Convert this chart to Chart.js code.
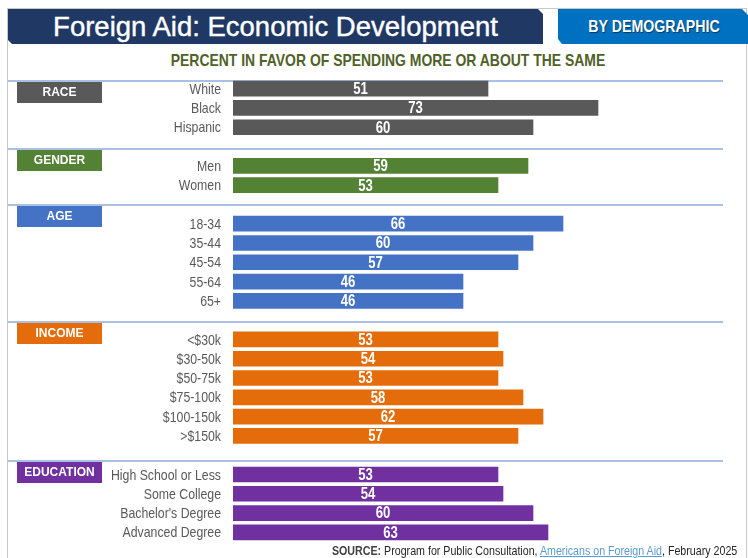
<!DOCTYPE html>
<html>
<head>
<meta charset="utf-8">
<script src="https://cdn.jsdelivr.net/npm/chart.js@4.4.1/dist/chart.umd.min.js"></script>
<style>
    html, body { margin: 0; padding: 0; background: #fff; }
    body { width: 748px; height: 558px; position: relative; overflow: hidden; font-family: 'Liberation Sans', Arial, sans-serif; }
    #frame { position: absolute; left: 7px; top: 8px; width: 738px; height: 560px; border: 1px solid #c9c9c9; border-bottom: none; }
    #banner { position: absolute; left: 8px; top: 9px; width: 535px; height: 35px; background: #1f3864;
        clip-path: polygon(0 0, 530px 0, 535px 5px, 535px 35px, 4px 35px, 0 31px);
        color: #fff; font-size: 27.5px; line-height: 36px; text-align: center; -webkit-text-stroke: 0.4px #fff; }
    #tag { position: absolute; left: 558px; top: 9px; width: 190px; height: 35px; background: #0070c0;
        clip-path: polygon(0 0, 184px 0, 190px 6px, 190px 35px, 4px 35px, 0 30px); }
    #tag span { position: absolute; left: 96px; top: 8px; transform: translateX(-50%) scaleX(0.835); white-space: nowrap;
        color: #fff; font-weight: bold; font-size: 17px; text-shadow: 1px 1px 1px rgba(0,0,0,0.5); }
    #subtitle { position: absolute; left: 388px; top: 51px; transform: translateX(-50%) scaleX(0.82); white-space: nowrap;
        color: #4f6228; font-weight: bold; font-size: 17px; }
    #source { position: absolute; right: 11px; top: 543px; transform: scaleX(0.82); transform-origin: right center;
        white-space: nowrap; color: #262626; font-size: 13px; }
    #source b { color: #404040; }
    #source a { color: #5b9bd5; text-decoration: underline; }
    #chart { position: absolute; left: 0; top: 0; }
</style>
</head>
<body>
<div id="frame"></div>
<div id="banner">Foreign Aid: Economic Development</div>
<div id="tag"><span>BY DEMOGRAPHIC</span></div>
<div id="subtitle">PERCENT IN FAVOR OF SPENDING MORE OR ABOUT THE SAME</div>
<canvas id="chart" width="748" height="558"></canvas>
<div id="source"><b>SOURCE:</b> Program for Public Consultation, <a>Americans on Foreign Aid</a>, February 2025</div>

<script>
// Survey results, grouped by demographic
const groupNames = ['RACE', 'GENDER', 'AGE', 'INCOME', 'EDUCATION'];

const raceLabels = ['White', 'Black', 'Hispanic'];
const raceValues = [51, 73, 60];

const genderLabels = ['Men', 'Women'];
const genderValues = [59, 53];

const ageLabels = ['18-34', '35-44', '45-54', '55-64', '65+'];
const ageValues = [66, 60, 57, 46, 46];

const incomeLabels = ['<$30k', '$30-50k', '$50-75k', '$75-100k', '$100-150k', '>$150k'];
const incomeValues = [53, 54, 53, 58, 62, 57];

const educationLabels = ['High School or Less', 'Some College', "Bachelor's Degree", 'Advanced Degree'];
const educationValues = [53, 54, 60, 63];

// Styling
const groupColors = ['#595959', '#548235', '#4472c4', '#e46c0a', '#7030a0'];
const headerGap = [8, 17, 19, 17, 13]; // px from separator line down to first bar centre
const FONT = "'Liberation Sans', Arial, sans-serif";
const NARROW = 0.82; // no narrow face installed, so squeeze horizontally

// Flatten groups into one category axis, with an empty slot between groups
const groups = [
    { labels: raceLabels, values: raceValues },
    { labels: genderLabels, values: genderValues },
    { labels: ageLabels, values: ageValues },
    { labels: incomeLabels, values: incomeValues },
    { labels: educationLabels, values: educationValues }
];

let labels = [];
let values = [];
let barColors = [];
let groupStart = [];

groups.forEach((g, gi) => {
    if (gi > 0) {
        labels.push('');
        values.push(null);
        barColors.push('transparent');
    }
    groupStart.push(labels.length);
    g.labels.forEach((l, i) => {
        labels.push(l);
        values.push(g.values[i]);
        barColors.push(groupColors[gi]);
    });
});

function narrowText(ctx, text, x, y) {
    ctx.save();
    ctx.translate(x, y);
    ctx.scale(NARROW, 1);
    ctx.fillText(text, 0, 0);
    ctx.restore();
}

// Separator lines, coloured group tags and the (condensed) category labels
const groupHeaders = {
    id: 'groupHeaders',
    beforeDatasetsDraw(chart) {
        const ctx = chart.ctx;
        const y = chart.scales.y;
        ctx.save();
        groupStart.forEach((idx, gi) => {
            const lineY = Math.round(y.getPixelForValue(idx) - headerGap[gi]);
            ctx.strokeStyle = '#8faadc';
            ctx.lineWidth = 1.5;
            ctx.beginPath();
            ctx.moveTo(8, lineY);
            ctx.lineTo(723, lineY);
            ctx.stroke();

            ctx.fillStyle = groupColors[gi];
            ctx.fillRect(17, lineY + 1, 85, 21);
            ctx.fillStyle = '#fff';
            ctx.font = 'bold 12px ' + FONT;
            ctx.textAlign = 'center';
            ctx.textBaseline = 'middle';
            ctx.fillText(groupNames[gi], 59.5, lineY + 11.5);
        });

        ctx.fillStyle = '#595959';
        ctx.font = '15px ' + FONT;
        ctx.textAlign = 'right';
        ctx.textBaseline = 'middle';
        chart.data.labels.forEach((l, i) => {
            if (l) narrowText(ctx, l, y.left + y.width - 12, y.getPixelForValue(i) + 1);
        });
        ctx.restore();
    }
};

// Value written in the middle of each bar
const barValues = {
    id: 'barValues',
    afterDatasetsDraw(chart) {
        const ctx = chart.ctx;
        const meta = chart.getDatasetMeta(0);
        ctx.save();
        ctx.fillStyle = '#fff';
        ctx.font = 'bold 16px ' + FONT;
        ctx.textAlign = 'center';
        ctx.textBaseline = 'middle';
        meta.data.forEach((bar, i) => {
            if (values[i] == null) return;
            narrowText(ctx, String(values[i]), (bar.x + bar.base) / 2, bar.y + 1);
        });
        ctx.restore();
    }
};

new Chart(document.getElementById('chart'), {
    type: 'bar',
    data: {
        labels: labels,
        datasets: [{
            data: values,
            backgroundColor: barColors,
            borderWidth: 0,
            barThickness: 15
        }]
    },
    options: {
        indexAxis: 'y',
        responsive: false,
        animation: false,
        devicePixelRatio: 1,
        layout: { padding: { top: 79, bottom: 16, left: 0, right: 15 } },
        plugins: { legend: { display: false }, tooltip: { enabled: false } },
        scales: {
            x: { display: false, min: 0, max: 100 },
            y: {
                grid: { display: false, drawTicks: false },
                border: { display: false },
                afterFit: s => { s.width = 233; },
                ticks: { display: false, autoSkip: false }
            }
        }
    },
    plugins: [groupHeaders, barValues]
});
</script>
</body>
</html>
